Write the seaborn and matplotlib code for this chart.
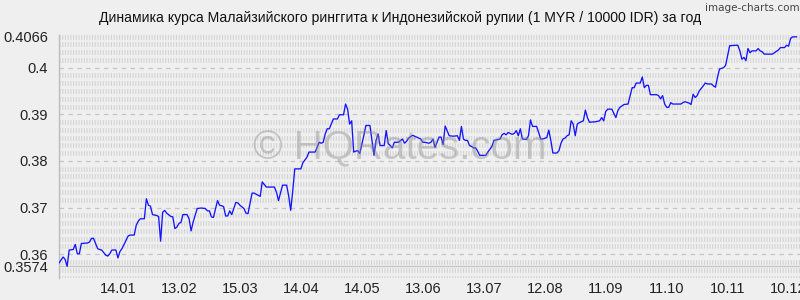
import numpy as np
import pandas as pd
import matplotlib
matplotlib.use("Agg")
import matplotlib.pyplot as plt
import seaborn as sns

# ---------------- data ----------------
start_date = "2013-12-16"
days = [0, 2, 3, 4, 5, 7, 8, 9, 10, 11, 14, 15, 16, 17, 19, 20, 21, 23, 24, 25,
        26, 28, 29, 30, 31, 33, 34, 35, 37, 38, 39, 40, 42, 43, 44, 45, 46, 48, 49, 50,
        51, 52, 53, 55, 56, 57, 58, 59, 60, 61, 63, 64, 65, 66, 68, 70, 72, 73, 74, 75,
        76, 78, 79, 80, 81, 82, 83, 84, 85, 87, 88, 89, 91, 92, 93, 95, 96, 99, 100, 102,
        106, 107, 108, 110, 112, 113, 114, 115, 116, 119, 120, 122, 123, 126, 127, 128, 129, 130, 131, 132,
        133, 135, 137, 138, 140, 141, 142, 143, 144, 145, 146, 147, 148, 150, 151, 153, 154, 155, 156, 157,
        158, 160, 161, 162, 163, 164, 165, 167, 169, 170, 171, 172, 174, 176, 178, 179, 180, 182, 183, 184,
        185, 187, 188, 189, 190, 192, 194, 196, 197, 198, 199, 200, 201, 202, 203, 204, 205, 206, 207, 210,
        211, 213, 214, 217, 218, 219, 220, 221, 223, 224, 225, 226, 227, 228, 230, 231, 232, 233, 235, 236,
        237, 238, 240, 241, 242, 243, 245, 246, 247, 248, 249, 250, 251, 252, 253, 254, 255, 256, 258, 259,
        260, 261, 264, 266, 267, 268, 269, 270, 272, 273, 274, 275, 276, 278, 280, 281, 282, 283, 284, 286,
        287, 288, 289, 290, 291, 294, 295, 296, 297, 298, 299, 300, 301, 302, 304, 306, 307, 308, 310, 311,
        312, 313, 314, 315, 317, 318, 319, 321, 322, 323, 324, 325, 327, 328, 330, 333, 334, 335, 336, 337,
        338, 339, 340, 341, 343, 344, 345, 346, 347, 349, 351, 352, 354, 355, 357, 358, 359, 360, 361, 363]
rates = [0.3581, 0.3594, 0.3589, 0.3574, 0.3609, 0.3610, 0.3621, 0.3601, 0.3601, 0.3623,
         0.3624, 0.3626, 0.3634, 0.3634, 0.3612, 0.3610, 0.3609, 0.3598, 0.3596, 0.3601,
         0.3609, 0.3609, 0.3592, 0.3606, 0.3612, 0.3630, 0.3639, 0.3641, 0.3641, 0.3662,
         0.3671, 0.3676, 0.3676, 0.3719, 0.3705, 0.3703, 0.3685, 0.3683, 0.3681, 0.3628,
         0.3690, 0.3694, 0.3688, 0.3681, 0.3680, 0.3655, 0.3658, 0.3666, 0.3668, 0.3685,
         0.3685, 0.3676, 0.3650, 0.3669, 0.3698, 0.3699, 0.3698, 0.3693, 0.3693, 0.3680,
         0.3679, 0.3715, 0.3705, 0.3704, 0.3702, 0.3682, 0.3682, 0.3693, 0.3685, 0.3711,
         0.3710, 0.3705, 0.3698, 0.3688, 0.3687, 0.3731, 0.3731, 0.3724, 0.3755, 0.3744,
         0.3744, 0.3733, 0.3715, 0.3748, 0.3748, 0.3725, 0.3694, 0.3735, 0.3783, 0.3783,
         0.3796, 0.3808, 0.3819, 0.3819, 0.3829, 0.3840, 0.3838, 0.3840, 0.3858, 0.3869,
         0.3869, 0.3890, 0.3890, 0.3899, 0.3899, 0.3922, 0.3911, 0.3879, 0.3886, 0.3819,
         0.3821, 0.3822, 0.3816, 0.3855, 0.3876, 0.3876, 0.3844, 0.3812, 0.3844, 0.3858,
         0.3833, 0.3833, 0.3865, 0.3837, 0.3833, 0.3828, 0.3840, 0.3840, 0.3847, 0.3838,
         0.3842, 0.3849, 0.3855, 0.3851, 0.3847, 0.3840, 0.3840, 0.3838, 0.3840, 0.3847,
         0.3829, 0.3851, 0.3851, 0.3835, 0.3875, 0.3854, 0.3853, 0.3854, 0.3844, 0.3874,
         0.3847, 0.3844, 0.3844, 0.3833, 0.3831, 0.3828, 0.3828, 0.3821, 0.3812, 0.3812,
         0.3819, 0.3831, 0.3844, 0.3847, 0.3856, 0.3859, 0.3856, 0.3861, 0.3857, 0.3859,
         0.3865, 0.3854, 0.3869, 0.3847, 0.3846, 0.3854, 0.3888, 0.3874, 0.3874, 0.3861,
         0.3847, 0.3847, 0.3850, 0.3866, 0.3844, 0.3817, 0.3817, 0.3822, 0.3838, 0.3847,
         0.3849, 0.3854, 0.3856, 0.3886, 0.3879, 0.3854, 0.3879, 0.3882, 0.3886, 0.3909,
         0.3893, 0.3883, 0.3884, 0.3886, 0.3893, 0.3886, 0.3906, 0.3911, 0.3911, 0.3902,
         0.3893, 0.3908, 0.3915, 0.3921, 0.3922, 0.3940, 0.3957, 0.3957, 0.3967, 0.3967,
         0.3980, 0.3957, 0.3962, 0.3962, 0.3942, 0.3942, 0.3940, 0.3933, 0.3940, 0.3922,
         0.3915, 0.3915, 0.3925, 0.3922, 0.3922, 0.3922, 0.3925, 0.3927, 0.3924, 0.3921,
         0.3943, 0.3936, 0.3940, 0.3950, 0.3961, 0.3967, 0.3965, 0.3965, 0.3961, 0.3958,
         0.3979, 0.3997, 0.4000, 0.4005, 0.4047, 0.4048, 0.4048, 0.4036, 0.4018, 0.4022,
         0.4015, 0.4041, 0.4032, 0.4036, 0.4036, 0.4041, 0.4036, 0.4034, 0.4029, 0.4029,
         0.4029, 0.4032, 0.4038, 0.4043, 0.4043, 0.4048, 0.4046, 0.4063, 0.4066, 0.4066]

x_tick_labels = ["14.01", "13.02", "15.03", "14.04", "14.05", "13.06",
                 "13.07", "12.08", "11.09", "11.10", "10.11", "10.12"]
x_tick_year = "2014"
y_ticks = [0.3574, 0.36, 0.37, 0.38, 0.39, 0.40, 0.4066]
y_tick_labels = ["0.3574", "0.36", "0.37", "0.38", "0.39", "0.4", "0.4066"]

title = "Динамика курса Малайзийского ринггита к Индонезийской рупии (1 MYR / 10000 IDR) за год"
watermark = "© HQRates.com"
credit = "image-charts.com"

# ---------------- style ----------------
BG = "#efefef"
sns.set_style("white", {"axes.facecolor": BG, "figure.facecolor": BG})
plt.rcParams["font.family"] = ["Liberation Sans", "DejaVu Sans"]
plt.rcParams["lines.scale_dashes"] = False

df = pd.DataFrame({
    "date": pd.Timestamp(start_date) + pd.to_timedelta(days, unit="D"),
    "rate": rates,
})

fig = plt.figure(figsize=(8, 3), dpi=100)
ax = fig.add_axes([59 / 800, 22 / 300, 741 / 800, 243 / 300])
ax.set_facecolor(BG)

# grid: minor textured rows and dashed major rows
ymin, ymax = 0.3549, 0.4070
minor = np.arange(0.355, 0.4075, 0.01 / 6)
for v in minor:
    if min(abs(v - t) for t in y_ticks) < 0.0004:
        continue
    ax.axhline(v, color="#d2d2d2", lw=3.4, ls=(0, (0.75, 1.2)), zorder=0.5)
for v in [0.36, 0.37, 0.38, 0.39, 0.40]:
    ax.axhline(v, color="#c4c4c4", lw=0.9, ls=(0, (3.2, 3.2)), zorder=0.6)
ax.axhline(0.3574, color="#c4c4c4", lw=0.9, zorder=0.6)
ax.axhline(0.4066, color="#d2d2d2", lw=3.4, ls=(0, (0.75, 1.2)), zorder=0.5)

sns.lineplot(data=df, x="date", y="rate", ax=ax, color="#1414ff", lw=0.95, zorder=3)

x0 = pd.Timestamp(start_date)
ax.set_xlim(x0, x0 + pd.Timedelta(days=364.6))
ax.set_ylim(ymin, ymax)

tick_dates = pd.to_datetime([f"{t}.{x_tick_year}" for t in x_tick_labels], format="%d.%m.%Y")
ax.set_xticks(tick_dates)
ax.set_xticklabels(x_tick_labels)
ax.set_yticks(y_ticks)
ax.set_yticklabels(y_tick_labels)
ax.tick_params(axis="both", length=0, labelsize=10.5, colors="#222222")
ax.tick_params(axis="x", pad=3)
ax.tick_params(axis="y", pad=8)
ax.set_xlabel("")
ax.set_ylabel("")

for s in ["top", "right", "bottom"]:
    ax.spines[s].set_visible(False)
ax.spines["left"].set_color("#bdbdbd")
ax.spines["left"].set_linewidth(1.0)

fig.text(0.5, 1 - 18 / 300, title, ha="center", va="center", fontsize=10.1, color="#111111")
fig.text(0.5, 1 - 148 / 300, watermark, ha="center", va="center", fontsize=29,
         color="#8c8c8c", alpha=0.42, zorder=10)
fig.text(0.999, 1 - 8 / 300, credit, ha="right", va="center", fontsize=7.5,
         color="#444444", family="DejaVu Sans")

fig.savefig("out.png", dpi=100, facecolor=BG)
